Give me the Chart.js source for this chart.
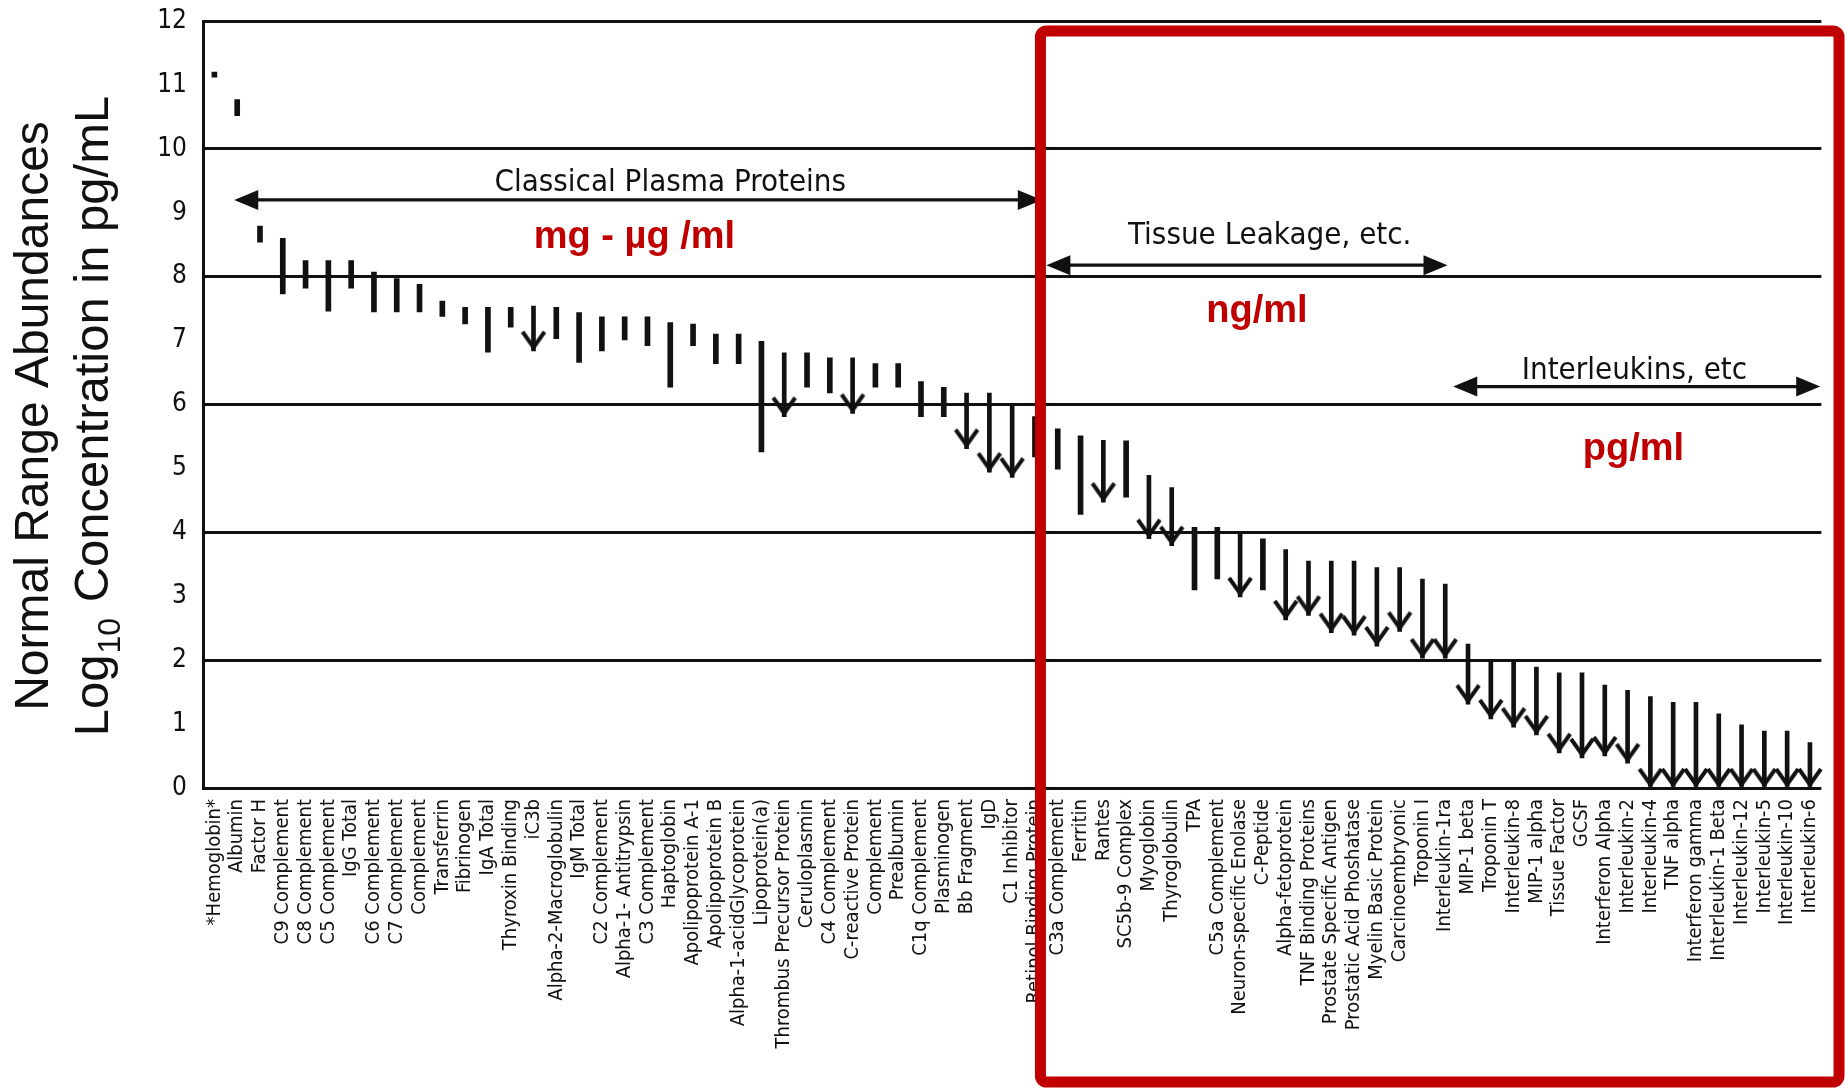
<!DOCTYPE html>
<html>
<head>
<meta charset="utf-8">
<script src="https://cdn.jsdelivr.net/npm/chart.js@4.4.1/dist/chart.umd.min.js"></script>
<style>
  html, body { margin: 0; padding: 0; background: #ffffff; }
  #wrap { width: 1845px; height: 1088px; position: relative; }
</style>
</head>
<body>
<div id="wrap"><canvas id="chart" width="1845" height="1088"></canvas></div>
<script>
// Normal concentration ranges (log10 pg/mL) of plasma proteins
const categories = [
  "*Hemoglobin*", "Albumin", "Factor H", "C9 Complement", "C8 Complement",
  "C5 Complement", "IgG Total", "C6 Complement", "C7 Complement", "Complement",
  "Transferrin", "Fibrinogen", "IgA Total", "Thyroxin Binding", "iC3b",
  "Alpha-2-Macroglobulin", "IgM Total", "C2 Complement", "Alpha-1- Antitrypsin", "C3 Complement",
  "Haptoglobin", "Apolipoprotein A-1", "Apolipoprotein B", "Alpha-1-acidGlycoprotein", "Lipoprotein(a)",
  "Thrombus Precursor Protein", "Ceruloplasmin", "C4 Complement", "C-reactive Protein", "Complement",
  "Prealbumin", "C1q Complement", "Plasminogen", "Bb Fragment", "IgD",
  "C1 Inhibitor", "Retinol Binding Protein", "C3a Complement", "Ferritin", "Rantes",
  "SC5b-9 Complex", "Myoglobin", "Thyroglobulin", "TPA", "C5a Complement",
  "Neuron-specific Enolase", "C-Peptide", "Alpha-fetoprotein", "TNF Binding Proteins", "Prostate Specific Antigen",
  "Prostatic Acid Phoshatase", "Myelin Basic Protein", "Carcinoembryonic", "Troponin I", "Interleukin-1ra",
  "MIP-1 beta", "Troponin T", "Interleukin-8", "MIP-1 alpha", "Tissue Factor",
  "GCSF", "Interferon Alpha", "Interleukin-2", "Interleukin-4", "TNF alpha",
  "Interferon gamma", "Interleukin-1 Beta", "Interleukin-12", "Interleukin-5", "Interleukin-10",
  "Interleukin-6"
];

const rangeLow = [
  11.12, 10.52, 8.54, 7.73, 7.82,
  7.46, 7.82, 7.45, 7.45, 7.45,
  7.38, 7.26, 6.82, 7.21, 6.84,
  7.03, 6.66, 6.84, 7.01, 6.92,
  6.27, 6.92, 6.64, 6.64, 5.26,
  5.81, 6.27, 6.18, 5.86, 6.27,
  6.27, 5.81, 5.81, 5.31, 4.94,
  4.86, 5.18, 4.99, 4.28, 4.47,
  4.55, 3.90, 3.79, 3.10, 3.27,
  2.99, 3.10, 2.63, 2.70, 2.43,
  2.39, 2.22, 2.45, 2.03, 2.03,
  1.31, 1.08, 0.95, 0.83, 0.55,
  0.47, 0.50, 0.39, 0.00, 0.00,
  0.00, 0.00, 0.00, 0.00, 0.00,
  0.00
];

const rangeHigh = [
  11.20, 10.77, 8.79, 8.60, 8.25,
  8.25, 8.25, 8.07, 7.97, 7.88,
  7.62, 7.52, 7.52, 7.52, 7.54,
  7.52, 7.44, 7.37, 7.37, 7.37,
  7.28, 7.26, 7.10, 7.10, 6.99,
  6.81, 6.81, 6.73, 6.73, 6.64,
  6.64, 6.36, 6.27, 6.18, 6.18,
  6.00, 5.81, 5.62, 5.51, 5.44,
  5.43, 4.89, 4.70, 4.08, 4.08,
  3.98, 3.90, 3.73, 3.55, 3.55,
  3.55, 3.45, 3.45, 3.27, 3.19,
  2.25, 1.97, 1.97, 1.89, 1.80,
  1.80, 1.61, 1.53, 1.43, 1.34,
  1.34, 1.16, 0.99, 0.89, 0.89,
  0.71
];

// 1 = only an upper limit is known (drawn as a downward arrow)
const upperLimitOnly = [
  0, 0, 0, 0, 0,
  0, 0, 0, 0, 0,
  0, 0, 0, 0, 1,
  0, 0, 0, 0, 0,
  0, 0, 0, 0, 0,
  1, 0, 0, 1, 0,
  0, 0, 0, 1, 1,
  1, 0, 0, 0, 1,
  0, 1, 1, 0, 0,
  1, 0, 1, 1, 1,
  1, 1, 1, 1, 1,
  1, 1, 1, 1, 1,
  1, 1, 1, 1, 1,
  1, 1, 1, 1, 1,
  1
];

const yTickValues = [0, 1, 2, 3, 4, 5, 6, 7, 8, 9, 10, 11, 12];

// Group brackets: [label, fromIndex, toIndex, arrowValue, labelIndex, labelValue]
const groupBrackets = [
  ["Classical Plasma Proteins", 0.87, 36.3, 9.2, 20.0, 9.47],
  ["Tissue Leakage, etc.", 36.5, 54.1, 8.18, 46.3, 8.64],
  ["Interleukins, etc", 54.35, 70.45, 6.28, 62.3, 6.52]
];

// Unit notes: [text, index, value]
const unitNotes = [
  ["mg - \u00B5g /ml", 18.43, 8.62],
  ["ng/ml", 45.74, 7.46],
  ["pg/ml", 62.26, 5.3]
];

const INK = '#111111';
const RED = '#C00000';
const LABEL_FONT = "'DejaVu Sans Condensed', 'DejaVu Sans', Verdana, sans-serif";

const rangeBars = categories.map((_, i) => upperLimitOnly[i] ? null : [rangeLow[i], rangeHigh[i]]);
const arrowShafts = categories.map((_, i) => upperLimitOnly[i] ? [rangeLow[i], rangeHigh[i]] : null);
const arrowTips = categories.map((_, i) => upperLimitOnly[i] ? rangeLow[i] : null);

// Open downward chevron used as the arrowhead; the tip sits at the image centre
function makeChevron() {
  const c = document.createElement('canvas');
  c.width = 28; c.height = 46;
  const g = c.getContext('2d');
  g.strokeStyle = INK;
  g.lineWidth = 4;
  g.lineJoin = 'miter';
  g.lineCap = 'butt';
  g.beginPath();
  g.moveTo(3, 4);
  g.lineTo(14, 19.5);
  g.lineTo(25, 4);
  g.stroke();
  return c;
}

function drawDoubleArrow(ctx, x1, x2, y) {
  const head = 24, half = 10;
  ctx.save();
  ctx.strokeStyle = INK;
  ctx.fillStyle = INK;
  ctx.lineWidth = 3.2;
  ctx.beginPath();
  ctx.moveTo(x1 + head - 2, y);
  ctx.lineTo(x2 - head + 2, y);
  ctx.stroke();
  ctx.beginPath();
  ctx.moveTo(x1, y); ctx.lineTo(x1 + head, y - half); ctx.lineTo(x1 + head, y + half); ctx.closePath();
  ctx.fill();
  ctx.beginPath();
  ctx.moveTo(x2, y); ctx.lineTo(x2 - head, y - half); ctx.lineTo(x2 - head, y + half); ctx.closePath();
  ctx.fill();
  ctx.restore();
}

const overlayPlugin = {
  id: 'overlay',
  afterDraw(chart) {
    const ctx = chart.ctx;
    const xs = chart.scales.x, ys = chart.scales.y;

    // group brackets and their captions
    groupBrackets.forEach(([text, a, b, v, li, lv]) => {
      drawDoubleArrow(ctx, xs.getPixelForValue(a), xs.getPixelForValue(b), ys.getPixelForValue(v));
      ctx.save();
      ctx.fillStyle = INK;
      ctx.font = "31px " + LABEL_FONT;
      ctx.textAlign = 'center';
      ctx.textBaseline = 'middle';
      ctx.fillText(text, xs.getPixelForValue(li), ys.getPixelForValue(lv));
      ctx.restore();
    });

    // unit notes
    unitNotes.forEach(([text, i, v]) => {
      ctx.save();
      ctx.fillStyle = RED;
      ctx.font = "bold 38px 'Liberation Sans', Arial, sans-serif";
      ctx.textAlign = 'center';
      ctx.textBaseline = 'middle';
      ctx.fillText(text, xs.getPixelForValue(i), ys.getPixelForValue(v));
      ctx.restore();
    });

    // y axis title (two lines, with subscript)
    ctx.save();
    ctx.fillStyle = INK;
    const yc = 416;
    ctx.translate(0, yc);
    ctx.rotate(-Math.PI / 2);
    ctx.textBaseline = 'alphabetic';
    ctx.textAlign = 'left';
    const big = "48px 'Liberation Sans', Arial, sans-serif";
    const big2 = "49px 'Liberation Sans', Arial, sans-serif";
    const small = "32px 'Liberation Sans', Arial, sans-serif";
    ctx.font = big;
    const l1 = "Normal Range Abundances";
    const w1 = ctx.measureText(l1).width;
    ctx.fillText(l1, -w1 / 2, 48);
    const partA = "Log", partC = " Concentration in pg/mL", sub = "10";
    ctx.font = big2;
    const wA = ctx.measureText(partA).width;
    const wC = ctx.measureText(partC).width;
    ctx.font = small;
    const wS = ctx.measureText(sub).width;
    const total = wA + wS + wC + 3;
    const x0 = -total / 2;
    ctx.font = big2;
    ctx.fillText(partA, x0, 108);
    ctx.font = small;
    ctx.fillText(sub, x0 + wA + 1, 120);
    ctx.font = big2;
    ctx.fillText(partC, x0 + wA + wS + 3, 108);
    ctx.restore();

    // highlight frame round the low-abundance region
    ctx.save();
    ctx.strokeStyle = RED;
    ctx.lineWidth = 11;
    ctx.lineJoin = 'round';
    const fx1 = xs.getPixelForValue(36.24);
    const fx2 = chart.width - 6;
    const fy1 = 31, fy2 = chart.height - 6;
    ctx.beginPath();
    if (ctx.roundRect) { ctx.roundRect(fx1, fy1, fx2 - fx1, fy2 - fy1, 6); }
    else { ctx.rect(fx1, fy1, fx2 - fx1, fy2 - fy1); }
    ctx.stroke();
    ctx.restore();
  }
};

const chevron = makeChevron();

new Chart(document.getElementById('chart'), {
  type: 'bar',
  data: {
    labels: categories,
    datasets: [
      {
        type: 'bar',
        data: rangeBars,
        backgroundColor: INK,
        barThickness: 5,
        grouped: false,
        borderWidth: 0
      },
      {
        type: 'bar',
        data: arrowShafts,
        backgroundColor: INK,
        barThickness: 4,
        grouped: false,
        borderWidth: 0
      },
      {
        type: 'line',
        data: arrowTips,
        showLine: false,
        pointStyle: chevron,
        pointRadius: 6,
        clip: false
      }
    ]
  },
  options: {
    responsive: false,
    animation: false,
    devicePixelRatio: 1,
    layout: { padding: { left: 0, top: 21, right: 9, bottom: 0 } },
    plugins: { legend: { display: false }, tooltip: { enabled: false } },
    scales: {
      x: {
        grid: { display: false, drawTicks: false },
        border: { display: false },
        ticks: {
          autoSkip: false,
          minRotation: 90,
          maxRotation: 90,
          padding: 11,
          color: INK,
          font: { family: LABEL_FONT, size: 20 }
        },
        afterFit(scale) { scale.height = 300; }
      },
      y: {
        min: 0,
        max: 12,
        afterBuildTicks(scale) { scale.ticks = yTickValues.map(v => ({ value: v })); },
        ticks: {
          padding: 16,
          color: INK,
          font: { family: LABEL_FONT, size: 26 }
        },
        grid: {
          drawTicks: false,
          lineWidth: 3,
          color: c => (c.tick && c.tick.value % 2 === 0) ? INK : 'rgba(0,0,0,0)'
        },
        border: { color: INK, width: 3 },
        afterFit(scale) {
          scale.width = 203;
          scale.paddingTop = 0;
          scale.paddingBottom = 0;
        }
      }
    }
  },
  plugins: [overlayPlugin]
});
</script>
</body>
</html>
